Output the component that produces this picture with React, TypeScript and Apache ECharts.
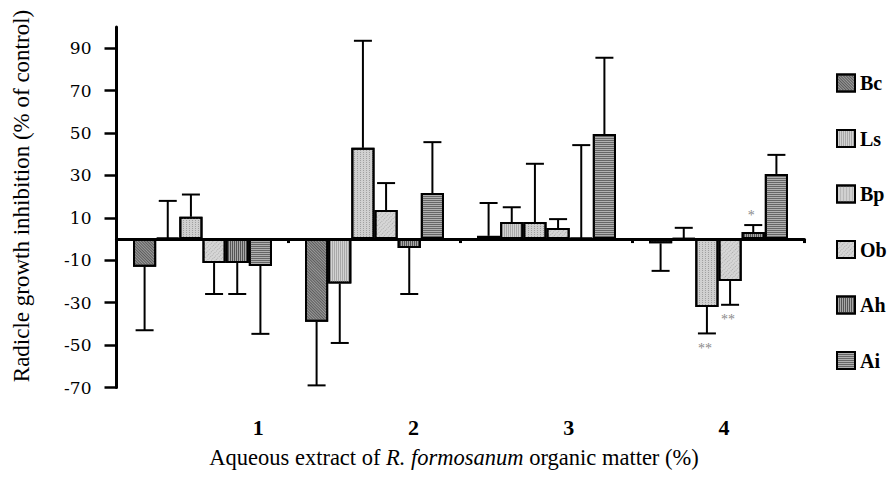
import React, { useEffect, useRef } from "react";
import * as echarts from "echarts";

const categories = ["1", "2", "3", "4"];
const seriesNames = ["Bc", "Ls", "Bp", "Ob", "Ah", "Ai"];

const bcValues = [-13, -39, 1.5, -2];
const lsValues = [0.5, -21, 8, 0.3];
const bpValues = [10.5, 43, 8, -32];
const obValues = [-11.3, 13.7, 5.2, -19.8];
const ahValues = [-11.3, -4.2, 0.5, 3.3];
const aiValues = [-12.7, 21.7, 49.5, 30.7];

const bcErrors = [30, 30, 15.5, 13];
const lsErrors = [17.5, 28, 7, 5];
const bpErrors = [10.5, 50.5, 27.5, 12.5];
const obErrors = [14.6, 12.7, 4.2, 11.2];
const ahErrors = [14.6, 21.7, 43.8, 3.3];
const aiErrors = [32, 24, 36, 9];

const bcSig = ["", "", "", ""];
const lsSig = ["", "", "", ""];
const bpSig = ["", "", "", "**"];
const obSig = ["", "", "", "**"];
const ahSig = ["", "", "", "*"];
const aiSig = ["", "", "", ""];

const yTickValues = [-70, -50, -30, -10, 10, 30, 50, 70, 90];

const SERIF = '"Liberation Serif", "Times New Roman", serif';
const CAT_GAP = 0.192;

const allValues = [bcValues, lsValues, bpValues, obValues, ahValues, aiValues];
const allErrors = [bcErrors, lsErrors, bpErrors, obErrors, ahErrors, aiErrors];
const allSig = [bcSig, lsSig, bpSig, obSig, ahSig, aiSig];

const styles = [
  { color: "#9c9c9c", decal: { symbol: "rect", symbolSize: 1, color: "#5a5a5a", dashArrayX: [4, 0], dashArrayY: [1, 1], rotation: Math.PI / 4 } },
  { color: "#d2d2d2", decal: { symbol: "rect", symbolSize: 1, color: "#a8a8a8", dashArrayX: [1, 1], dashArrayY: [4, 0], rotation: 0 } },
  { color: "#d0d0d0", decal: { symbol: "rect", symbolSize: 1, color: "#a0a0a0", dashArrayX: [1, 2], dashArrayY: [1, 1], rotation: 0 } },
  { color: "#d6d6d6", decal: { symbol: "rect", symbolSize: 1, color: "#acacac", dashArrayX: [1, 2], dashArrayY: [1, 1], rotation: Math.PI / 4 } },
  { color: "#a8a8a8", decal: { symbol: "rect", symbolSize: 1, color: "#555555", dashArrayX: [1, 1], dashArrayY: [4, 0], rotation: 0 } },
  { color: "#b0b0b0", decal: { symbol: "rect", symbolSize: 1, color: "#666666", dashArrayX: [4, 0], dashArrayY: [1, 1], rotation: 0 } },
];

type ErrItem = { cat: number; ser: number; value: number; end: number; sig: string };
const errItems: ErrItem[] = [];
allValues.forEach((vals, j) => {
  vals.forEach((v, i) => {
    const dir = v >= 0 ? 1 : -1;
    errItems.push({ cat: i, ser: j, value: v, end: v + dir * allErrors[j][i], sig: allSig[j][i] });
  });
});

export default function App() {
  const ref = useRef<HTMLDivElement>(null);
  useEffect(() => {
    if (!ref.current) return;
    const chart = echarts.init(ref.current, null, { renderer: "svg" });
    const barSeries = seriesNames.map((name, j) => ({
      name,
      type: "bar",
      xAxisIndex: 0,
      yAxisIndex: 0,
      data: allValues[j],
      barGap: "0%",
      barCategoryGap: CAT_GAP * 100 + "%",
      itemStyle: {
        color: styles[j].color,
        borderColor: "#000",
        borderWidth: 2,
        decal: styles[j].decal,
      },
      z: 2,
    }));
    const option: any = {
      animation: false,
      backgroundColor: "#fff",
      grid: [
        { left: 116.5, right: 84.5, top: 27, bottom: 89.5, containLabel: false },
        { left: 180.5, right: 87.5, top: 27, bottom: 89.5, containLabel: false },
      ],
      legend: {
        orient: "vertical",
        left: 836,
        top: 73,
        padding: 0,
        icon: "rect",
        itemWidth: 18,
        itemHeight: 17,
        itemGap: 35.5,
        data: seriesNames,
        textStyle: { fontFamily: SERIF, fontWeight: "bold", fontSize: 20, lineHeight: 20, color: "#000" },
      },
      xAxis: [
        {
          type: "category",
          gridIndex: 0,
          data: categories,
          axisLine: { onZero: true, lineStyle: { color: "#000", width: 3 } },
          axisTick: { show: true, length: 4, lineStyle: { color: "#000", width: 3 } },
          axisLabel: { show: false },
          splitLine: { show: false },
        },
        {
          type: "category",
          gridIndex: 1,
          data: categories,
          position: "bottom",
          axisLine: { show: false },
          axisTick: { show: false },
          axisLabel: { show: true, margin: 29, fontFamily: SERIF, fontWeight: "bold", fontSize: 22, color: "#000" },
          splitLine: { show: false },
        },
      ],
      yAxis: [
        {
          type: "value",
          gridIndex: 0,
          min: -70,
          max: 100,
          axisLine: { show: true, lineStyle: { color: "#000", width: 3 } },
          axisTick: { show: true, length: 12, lineStyle: { color: "#000", width: 2.5 }, customValues: yTickValues },
          axisLabel: { margin: 25, fontFamily: '"DejaVu Serif", serif', fontSize: 17, color: "#000", customValues: yTickValues },
          splitLine: { show: false },
        },
        { type: "value", gridIndex: 1, min: -70, max: 100, show: false },
      ],
      series: [
        ...barSeries,
        {
          type: "custom",
          name: "errors",
          xAxisIndex: 0,
          yAxisIndex: 0,
          z: 5,
          clip: false,
          data: errItems.map((e) => [e.cat, e.value, e.end]),
          encode: { x: 0, y: [1, 2] },
          renderItem: (params: any, api: any) => {
            const e = errItems[params.dataIndex];
            const bandW = api.size([1, 0])[0];
            const groupW = bandW * (1 - CAT_GAP);
            const bw = groupW / seriesNames.length;
            const cx = api.coord([e.cat, 0])[0] - groupW / 2 + bw * (e.ser + 0.5);
            const y0 = api.coord([e.cat, e.value])[1];
            const y1 = api.coord([e.cat, e.end])[1];
            const ls = { stroke: "#000", lineWidth: 2 };
            const children: any[] = [
              { type: "line", shape: { x1: cx, y1: y0, x2: cx, y2: y1 }, style: ls },
              { type: "line", shape: { x1: cx - 9, y1: y1, x2: cx + 9, y2: y1 }, style: ls },
            ];
            if (e.sig) {
              const below = e.end < e.value;
              children.push({
                type: "text",
                x: cx - 2,
                y: below ? y1 + 8 : y1 - 3,
                style: {
                  text: e.sig,
                  fill: "#8a8a8a",
                  font: "14px " + SERIF,
                  align: "center",
                  textAlign: "center",
                  verticalAlign: below ? "top" : "bottom",
                  textVerticalAlign: below ? "top" : "bottom",
                },
              });
            }
            return { type: "group", children };
          },
        },
      ],
      graphic: [
        {
          type: "text",
          x: 21,
          y: 196,
          rotation: Math.PI / 2,
          style: {
            text: "Radicle growth inhibition (% of control)",
            font: "23px " + SERIF,
            fill: "#000",
            align: "center",
            textAlign: "center",
            verticalAlign: "middle",
            textVerticalAlign: "middle",
          },
        },
        {
          type: "text",
          x: 454,
          y: 457,
          style: {
            text: "{n|Aqueous extract of }{i|R. formosanum}{n| organic matter (%)}",
            rich: {
              n: { fontFamily: SERIF, fontSize: 22.5, fill: "#000" },
              i: { fontFamily: SERIF, fontSize: 22.5, fontStyle: "italic", fill: "#000" },
            },
            font: "22.5px " + SERIF,
            fill: "#000",
            align: "center",
            textAlign: "center",
            verticalAlign: "middle",
            textVerticalAlign: "middle",
          },
        },
      ],
    };
    chart.setOption(option);
    return () => chart.dispose();
  }, []);
  return <div ref={ref} style={{ position: "fixed", left: 0, top: 0, width: 889, height: 477 }} />;
}
